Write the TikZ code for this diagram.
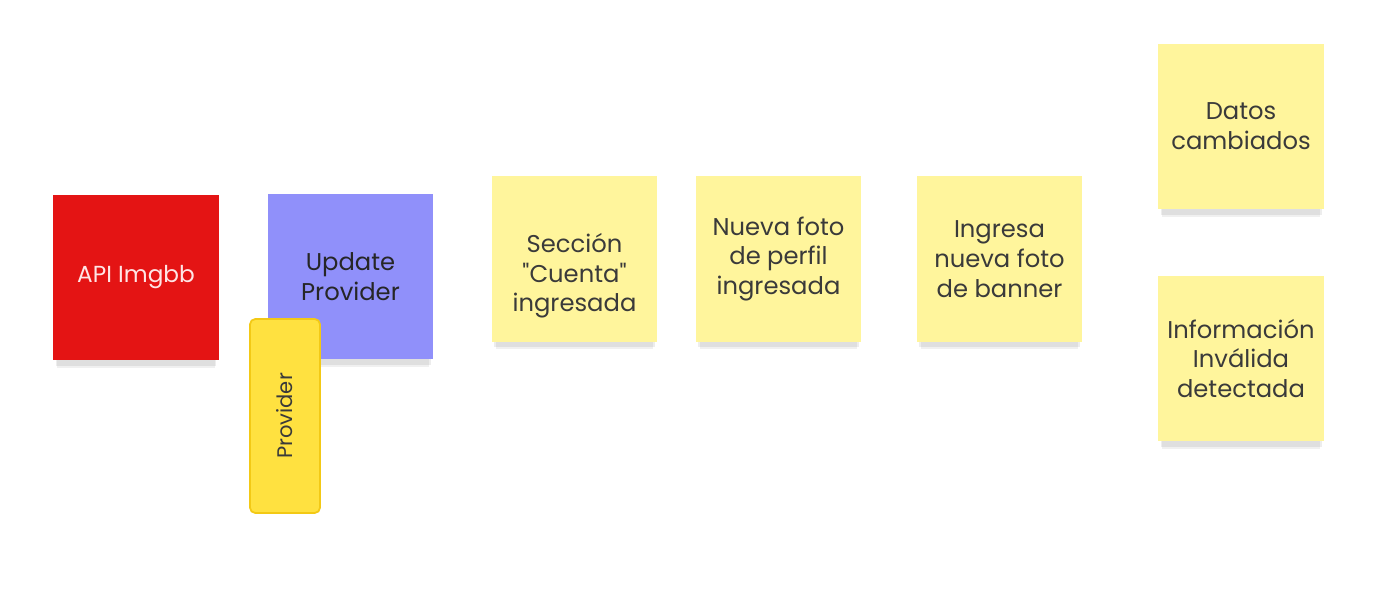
\documentclass[tikz,border=0pt]{standalone}
\usepackage{fontspec}
\setmainfont{Poppins}
\usetikzlibrary{shadows}

\definecolor{apired}{HTML}{E41414}
\definecolor{provpurple}{HTML}{9090FA}
\definecolor{stickyyellow}{HTML}{FFF59C}
\definecolor{provyellow}{HTML}{FFE140}
\definecolor{provborder}{HTML}{F3C915}
\definecolor{stickytext}{HTML}{3A3A3A}

\tikzset{
  sticky/.style={rectangle, minimum width=3.32cm, minimum height=3.32cm, inner sep=0pt,
    align=center, font=\fontsize{13.8}{17}\selectfont, text=stickytext,
    drop shadow={shadow xshift=0cm, shadow yshift=-0.24cm, shadow scale=0.95, opacity=0.06, fill=black},
    drop shadow={shadow xshift=0cm, shadow yshift=-0.16cm, shadow scale=0.97, opacity=0.07, fill=black}},
}

\begin{document}
\begin{tikzpicture}[x=0.02cm, y=-0.02cm]
% canvas
\fill[white] (0, 0) rectangle (1389, 604);
\useasboundingbox (0, 0) rectangle (1389, 604);

% left side
\node[sticky, fill=apired, text=red!10, font=\fontsize{13.2}{17}\selectfont] (api) at (136, 277.5) {API Imgbb};
\node[sticky, fill=provpurple, text=black!85] (upd) at (350.5, 276.5) {Update\\Provider};
\node[rectangle, rounded corners=3pt, draw=provborder, line width=1pt, fill=provyellow,
  rotate=90, minimum width=3.88cm, minimum height=1.4cm, inner sep=0pt,
  font=\fontsize{12}{14}\selectfont, text=stickytext] (prov) at (285, 416) {Provider};

% events
\node[sticky, fill=stickyyellow, text height=64pt] (seccion) at (574.5, 259) {Sección\\\textquotedbl Cuenta\textquotedbl\\ingresada};
\node[sticky, fill=stickyyellow] (perfil) at (778.5, 259) {Nueva foto\\de perfil\\ingresada};
\node[sticky, fill=stickyyellow] (banner) at (999.5, 259) {Ingresa\\nueva foto\\de banner};

% results
\node[sticky, fill=stickyyellow] (datos) at (1241, 126.5) {Datos\\cambiados};
\node[sticky, fill=stickyyellow] (invalida) at (1241, 358.5) {Información\\Inválida\\detectada};
\end{tikzpicture}
\end{document}
